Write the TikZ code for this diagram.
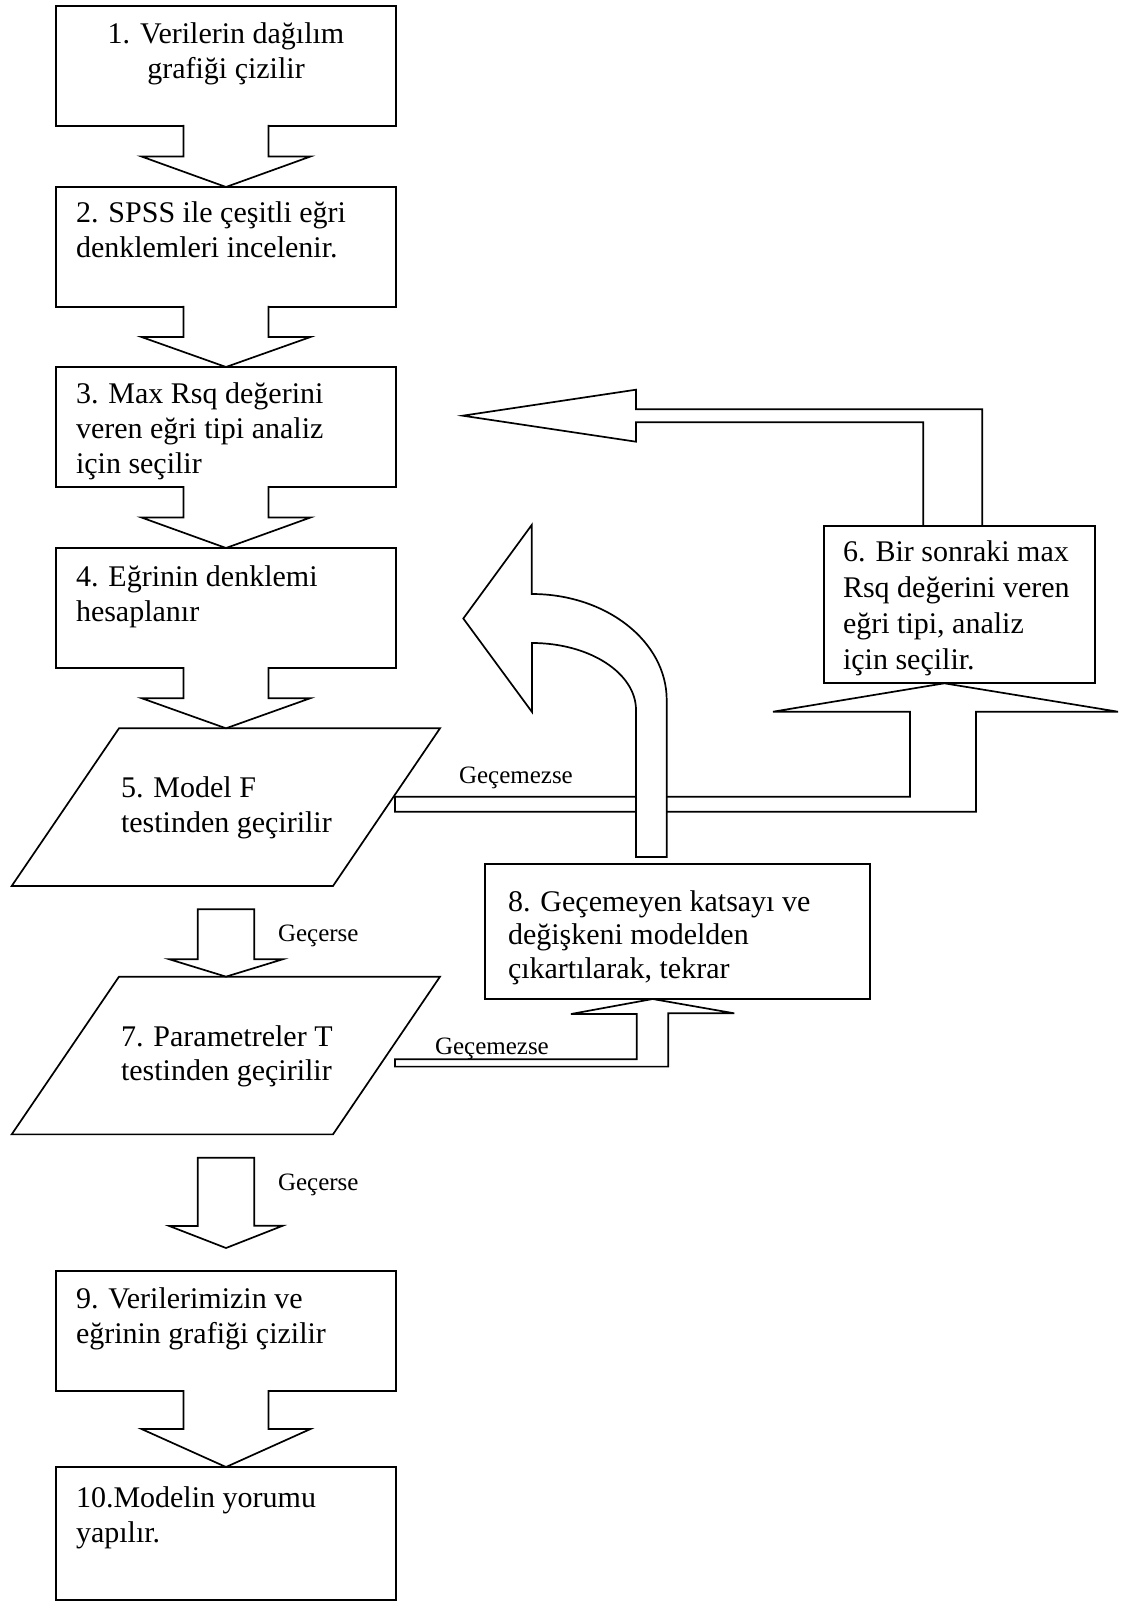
\documentclass[tikz,border=0pt]{standalone}
\usepackage{fontspec}
\setmainfont{Liberation Serif}
\usetikzlibrary{calc}

% down-pointing block arrow from the bottom of box #1 to the tip point #2
\newcommand\downblock[2]{%
  \draw[blk] ($(#1.south)+(-42.5,-1)$) -- ($(#1.south)!0.5!(#2)+(-42.5,0)$)
    -- ($(#1.south)!0.5!(#2)+(-84.5,0)$) -- (#2)
    -- ($(#1.south)!0.5!(#2)+(84.5,0)$) -- ($(#1.south)!0.5!(#2)+(42.5,0)$)
    -- ($(#1.south)+(42.5,-1)$);
}

\begin{document}
\begin{tikzpicture}[x=1pt,y=-1pt,
  box/.style={draw, line width=1.7pt, inner sep=0pt, outer sep=0pt},
  frame/.style={inner sep=0pt, outer sep=0pt},
  blk/.style={draw, line width=1.7pt, line join=miter, fill=white},
  txt/.style={inner sep=0pt, outer sep=0pt, align=left, font=\fontsize{30}{35}\selectfont},
  txtn/.style={inner sep=0pt, outer sep=0pt, align=left, font=\fontsize{30}{33.5}\selectfont},
  lbl/.style={inner sep=0pt, outer sep=0pt, font=\fontsize{25}{30}\selectfont}]
\useasboundingbox (0,0) rectangle (1132,1602);

% process boxes
\node[box, minimum width=340pt, minimum height=120pt] (b1) at (226,66) {};
\node[box, minimum width=340pt, minimum height=120pt] (b2) at (226,247) {};
\node[box, minimum width=340pt, minimum height=120pt] (b3) at (226,427) {};
\node[box, minimum width=340pt, minimum height=120pt] (b4) at (226,608) {};
\node[box, minimum width=270.7pt, minimum height=157.6pt] (b6) at (959.65,604.5) {};
\node[box, minimum width=384.7pt, minimum height=135pt] (b8) at (677.65,931.5) {};
\node[box, minimum width=340pt, minimum height=120pt] (b9) at (226,1331) {};
\node[box, minimum width=340pt, minimum height=133pt] (b10) at (226,1533.5) {};

% decision parallelograms
\node[frame, minimum width=428.3pt, minimum height=157.7pt] (p5) at (225.85,807.15) {};
\node[frame, minimum width=428.3pt, minimum height=157.7pt] (p7) at (225.85,1055.5) {};
\draw[box] ($(p5.north west)+(107.3,0)$) -- (p5.north east)
  -- ($(p5.south east)+(-107,0)$) -- (p5.south west) -- cycle;
\draw[box] ($(p7.north west)+(107.3,0)$) -- (p7.north east)
  -- ($(p7.south east)+(-107,0)$) -- (p7.south west) -- cycle;
\coordinate (p5in) at ($(p5.north west)+(214.3,0)$);
\coordinate (p7in) at ($(p7.north west)+(214.3,0)$);

% main flow
\downblock{b1}{b2.north}
\downblock{b2}{b3.north}
\downblock{b3}{b4.north}
\downblock{b4}{p5in}
\downblock{b9}{b10.north}

% "Geçerse" exits
\coordinate (g57) at ($(p5.south west)+(214.3,23.3)$);
\draw[blk] ($(g57)+(-28.3,0)$) -- ++(56.6,0) -- ++(0,50) -- ++(28.4,0) -- (p7in)
  -- ++(-56.7,-17.4) -- ++(28.4,0) -- cycle;
\coordinate (g79) at ($(p7.south west)+(214.3,23.4)$);
\coordinate (t79) at ($(b9.north)+(0,-23)$);
\draw[blk] ($(g79)+(-28.3,0)$) -- ++(56.6,0) -- ++(0,68) -- ++(28.4,0) -- (t79)
  -- ++(-56.7,-22) -- ++(28.4,0) -- cycle;

% box 5 fails: to box 6
\coordinate (f5) at (395,804.2);
\coordinate (h6) at ($(b6.south)+(-15.35,0)$);
\draw[blk] ($(f5)+(0,-7.5)$) -- ++(515,0) -- ++(0,-85) -- ++(-137,0) -- (h6)
  -- ++(173.7,28.4) -- ++(-142,0) -- ++(0,100) -- ++(-581,0) -- cycle;

% box 6 back to box 3
\coordinate (h3) at ($(b3.east)+(66.7,-11.3)$);
\draw[line width=1.7pt, line join=miter] ($(b6.north)+(-36.35,0)$) -- ++(0,-103.4)
  -- ++(-287.3,0) -- ++(0,19.4) -- (h3) -- ++(173.3,-26) -- ++(0,19.6)
  -- ++(346.3,0) -- ++(0,116.4);

% box 7 fails: to box 8
\coordinate (f7) at (395,1063.3);
\coordinate (h8) at ($(b8.south)+(-25,0)$);
\draw[blk] ($(f7)+(0,-4)$) -- ++(241.7,0) -- ++(0,-45.3) -- ++(-65.7,0) -- (h8)
  -- ++(81.6,14.3) -- ++(-66,0) -- ++(0,53.3) -- ++(-273.3,0) -- cycle;

% box 8 back up, curving left
\coordinate (f8) at ($(b8.north)+(-26.15,-7)$);
\coordinate (h45) at ($(b4.east)+(67.3,10.5)$);
\draw[blk] ($(f8)+(-15.5,0)$) -- ++(0,-147)
  arc[start angle=0, end angle=-90, x radius=104, y radius=67]
  -- ++(0,69) -- (h45) -- ++(68.4,-93.5) -- ++(0,69)
  arc[start angle=-90, end angle=0, x radius=135, y radius=106]
  -- ++(0,157) -- cycle;

% texts (anchored on the baseline of their last line)
\node[txt, align=center, anchor=base] (t1) at (226,79) {1. Verilerin dağılım\\grafiği çizilir};
\node[txt, anchor=base west] (t2) at (76,258) {2. SPSS ile çeşitli eğri\\denklemleri incelenir.};
\node[txt, anchor=base west] (t3) at (76,473) {3. Max Rsq değerini\\veren eğri tipi analiz\\için seçilir};
\node[txt, anchor=base west] (t4) at (76,621) {4. Eğrinin denklemi\\hesaplanır};
\node[txt, anchor=base west] (t5) at (121,832) {5. Model F\\testinden geçirilir};
\node[txt, anchor=base west, font=\fontsize{30}{35.7}\selectfont] (t6) at (843,669) {6. Bir sonraki max\\Rsq değerini veren\\eğri tipi, analiz\\için seçilir.};
\node[txtn, anchor=base west] (t7) at (121,1080) {7. Parametreler T\\testinden geçirilir};
\node[txtn, anchor=base west] (t8) at (508,978) {8. Geçemeyen katsayı ve\\değişkeni modelden\\çıkartılarak, tekrar};
\node[txt, anchor=base west] (t9) at (76,1343) {9. Verilerimizin ve\\eğrinin grafiği çizilir};
\node[txt, anchor=base west] (t10) at (76,1542) {10.Modelin yorumu\\yapılır.};

% branch labels
\node[lbl, anchor=base west] (l1) at (459,783) {Geçemezse};
\node[lbl, anchor=base west] (l2) at (435,1054) {Geçemezse};
\node[lbl, anchor=base west] (l3) at (278,941) {Geçerse};
\node[lbl, anchor=base west] (l4) at (278,1190) {Geçerse};
\end{tikzpicture}
\end{document}
